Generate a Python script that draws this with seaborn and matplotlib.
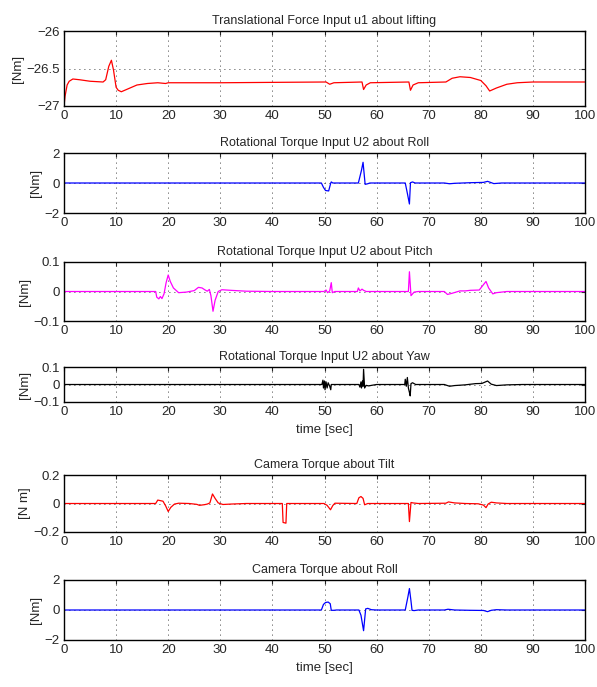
import numpy as np
import seaborn as sns
import matplotlib.pyplot as plt

# values (time in sec, torque in Nm)
lift_t = [0, 0.2, 0.6, 1, 1.7, 3, 5, 7.5, 8.0, 8.6, 9.1, 9.5, 10, 10.4, 11, 12, 14, 16, 18,
          19.5, 20, 25, 30, 40, 50.3, 51, 51.8, 57.2, 57.5, 58.0, 58.8, 66.2, 66.5, 67.0, 68,
          73.3, 74.5, 76, 78, 80, 81, 81.7, 83, 85, 87, 90, 100]
lift_u = [-27, -26.87, -26.72, -26.67, -26.64, -26.65, -26.67, -26.68, -26.65, -26.47, -26.39,
          -26.52, -26.75, -26.79, -26.81, -26.78, -26.72, -26.70, -26.69, -26.70, -26.69, -26.69,
          -26.69, -26.685, -26.68, -26.71, -26.69, -26.68, -26.78, -26.72, -26.69, -26.68, -26.79,
          -26.72, -26.69, -26.68, -26.63, -26.61, -26.62, -26.66, -26.73, -26.80, -26.76, -26.71,
          -26.69, -26.68, -26.68]

roll_t = [0, 49.4, 49.8, 50.2, 50.8, 51.2, 51.3, 51.6, 56.5, 57.1, 57.4, 57.8, 58.3, 58.7,
          65.5, 65.9, 66.3, 66.5, 66.9, 67.4, 73, 74, 75, 78, 80.5, 81.3, 82.5, 84, 100]
roll_u = [0, 0, -0.29, -0.5, -0.53, 0, 0.07, 0, 0, 0.85, 1.38, -0.09, -0.05, 0,
          0, -0.68, -1.4, 0.02, 0.07, 0, 0, -0.05, -0.02, 0.02, 0.04, 0.11, -0.04, 0, 0]

pitch_t = [0, 17.6, 17.8, 18.2, 18.5, 18.8, 19.2, 19.6, 20, 20.4, 21, 22, 23.5, 25, 25.8, 26.5,
           27, 27.5, 27.9, 28.2, 28.6, 29, 29.6, 30.3, 32, 35, 40, 49.9, 50.3, 50.6, 51.0, 51.3,
           51.5, 52, 56.3, 56.5, 56.8, 57.2, 57.5, 58, 66.1, 66.3, 66.6, 67.2, 68, 73, 73.6, 74.5,
           76, 77, 78, 79.7, 80.5, 81, 81.5, 82.3, 83, 85, 100]
pitch_u = [0, 0, -0.019, -0.025, -0.017, -0.024, -0.008, 0.03, 0.056, 0.034, 0.012, -0.004,
           -0.002, 0.003, 0.014, 0.012, 0.006, 0.001, 0.007, -0.014, -0.067, -0.03, 0, 0.006,
           0.004, 0.001, 0, 0, 0.005, -0.004, 0.002, 0.03, -0.004, 0, 0, 0.012, 0.002, 0.008,
           0.004, 0, 0, 0.067, -0.014, -0.002, 0, 0, -0.01, -0.006, 0.002, 0.002, 0.004, 0.005,
           0.023, 0.034, 0.012, -0.008, -0.004, 0, 0]

yaw_t = [0, 49.5, 49.7, 49.8, 50.0, 50.1, 50.3, 50.5, 50.7, 51.0, 51.2, 51.3, 51.8, 56.6, 56.8,
         57.0, 57.1, 57.3, 57.4, 57.5, 57.7, 58.0, 58.5, 59, 60, 65.4, 65.5, 65.7, 65.9, 66.1,
         66.3, 66.45, 66.6, 66.9, 67.5, 73, 74, 75, 77, 79, 80.2, 81.3, 82, 83, 85, 88, 100]
yaw_u = [0, 0, 0.025, -0.02, 0.02, -0.03, 0.015, -0.02, 0.01, -0.01, -0.03, 0, 0, 0, -0.015,
         0.015, -0.02, 0.02, -0.01, 0.087, -0.02, -0.005, -0.008, -0.005, 0, 0, 0.03, -0.01,
         0.04, -0.02, -0.045, -0.065, 0.005, 0.01, 0, 0, -0.01, -0.006, -0.002, 0.005, 0.006,
         0.02, 0.002, -0.006, -0.002, 0, 0]

tilt_t = [0, 17.6, 18, 18.5, 19, 19.5, 20, 20.5, 21.2, 22, 24, 25.5, 26, 27, 27.5, 28, 28.5, 29,
          29.6, 30.5, 32, 35, 41.9, 42.05, 42.6, 42.75, 49.9, 50.5, 51.15, 51.6, 52, 56.2, 56.6,
          57, 57.4, 57.7, 58.3, 66.1, 66.3, 66.6, 67, 68, 73.3, 73.8, 75, 77, 79.5, 80.5, 81,
          81.4, 82, 83, 85, 100]
tilt_u = [0, 0, 0.024, 0.02, 0.016, -0.016, -0.056, -0.027, -0.004, 0.002, 0, -0.006, -0.013,
          -0.008, -0.004, 0.004, 0.067, 0.036, 0.004, -0.007, -0.004, 0, 0, -0.133, -0.138, 0,
          0, -0.013, -0.044, -0.014, 0.002, 0, 0.04, 0.049, 0.036, -0.009, 0, 0, -0.127, 0.007,
          0.004, 0, 0.002, 0.011, 0.004, 0, -0.002, -0.011, -0.029, -0.004, 0.009, 0.004, 0, 0]

croll_t = [0, 49.4, 49.8, 50.2, 50.7, 51.1, 51.3, 51.8, 52.3, 56.6, 57.0, 57.5, 57.9, 58.3, 59,
           60, 65.5, 66.0, 66.3, 66.6, 66.8, 67.2, 68, 73, 73.7, 75, 78, 80.5, 81.3, 82, 83, 85, 100]
croll_u = [0, 0, 0.37, 0.5, 0.53, 0.42, -0.02, -0.02, 0, 0, -0.35, -1.38, 0.07, 0.11, 0.02,
           0, 0, 0.86, 1.43, 0.6, -0.02, -0.04, 0, 0, 0.05, 0, -0.02, -0.03, -0.11, -0.02, 0.02,
           0, 0]

panels = [
    ("Translational Force Input u1 about lifting", lift_t, lift_u, "#ff0000", (-27, -26), [-27, -26.5, -26], "[Nm]", None),
    ("Rotational Torque Input U2 about Roll", roll_t, roll_u, "#0000ff", (-2, 2), [-2, 0, 2], "[Nm]", None),
    ("Rotational Torque Input U2 about Pitch", pitch_t, pitch_u, "#ff00ff", (-0.1, 0.1), [-0.1, 0, 0.1], "[Nm]", None),
    ("Rotational Torque Input U2 about Yaw", yaw_t, yaw_u, "#000000", (-0.1, 0.1), [-0.1, 0, 0.1], "[Nm]", "time [sec]"),
    ("Camera Torque about Tilt", tilt_t, tilt_u, "#ff0000", (-0.2, 0.2), [-0.2, 0, 0.2], "[N m]", None),
    ("Camera Torque about Roll", croll_t, croll_u, "#0000ff", (-2, 2), [-2, 0, 2], "[Nm]", "time [sec]"),
]

# axes boxes in pixels (top, bottom) on a 597x687 canvas
boxes = [(31, 106), (153, 213), (262, 321), (367, 402), (475, 532), (580, 640)]

sns.set_style("white")
plt.rcParams['font.family'] = ['Liberation Sans', 'DejaVu Sans']

W, H = 597, 687
fig = plt.figure(figsize=(W / 100, H / 100), dpi=100)

for (title, t, u, color, ylim, yticks, ylab, xlab), (top, bot) in zip(panels, boxes):
    ax = fig.add_axes([64 / W, (H - bot) / H, 521 / W, (bot - top) / H])
    sns.lineplot(x=t, y=u, color=color, linewidth=0.9, errorbar=None, ax=ax)
    ax.set_xlim(0, 100)
    ax.set_ylim(*ylim)
    ax.set_xticks(np.arange(0, 101, 10))
    ax.set_yticks(yticks)
    ax.set_yticklabels([f"{v:g}".replace('-', '\u2212') for v in yticks])
    ax.grid(True, color='black', linestyle=(0, (1, 5)), linewidth=0.6)
    for s in ax.spines.values():
        s.set_color('black')
        s.set_linewidth(1.0)
    ax.tick_params(direction='in', length=3, top=True, right=True, labelsize=9.5, pad=3)
    ax.set_title(title, fontsize=9, pad=5)
    ax.set_ylabel(ylab, fontsize=9.5, labelpad=2)
    if xlab:
        ax.set_xlabel(xlab, fontsize=9.5, labelpad=4)
    else:
        ax.set_xlabel("")

fig.savefig("out.png", dpi=100)
